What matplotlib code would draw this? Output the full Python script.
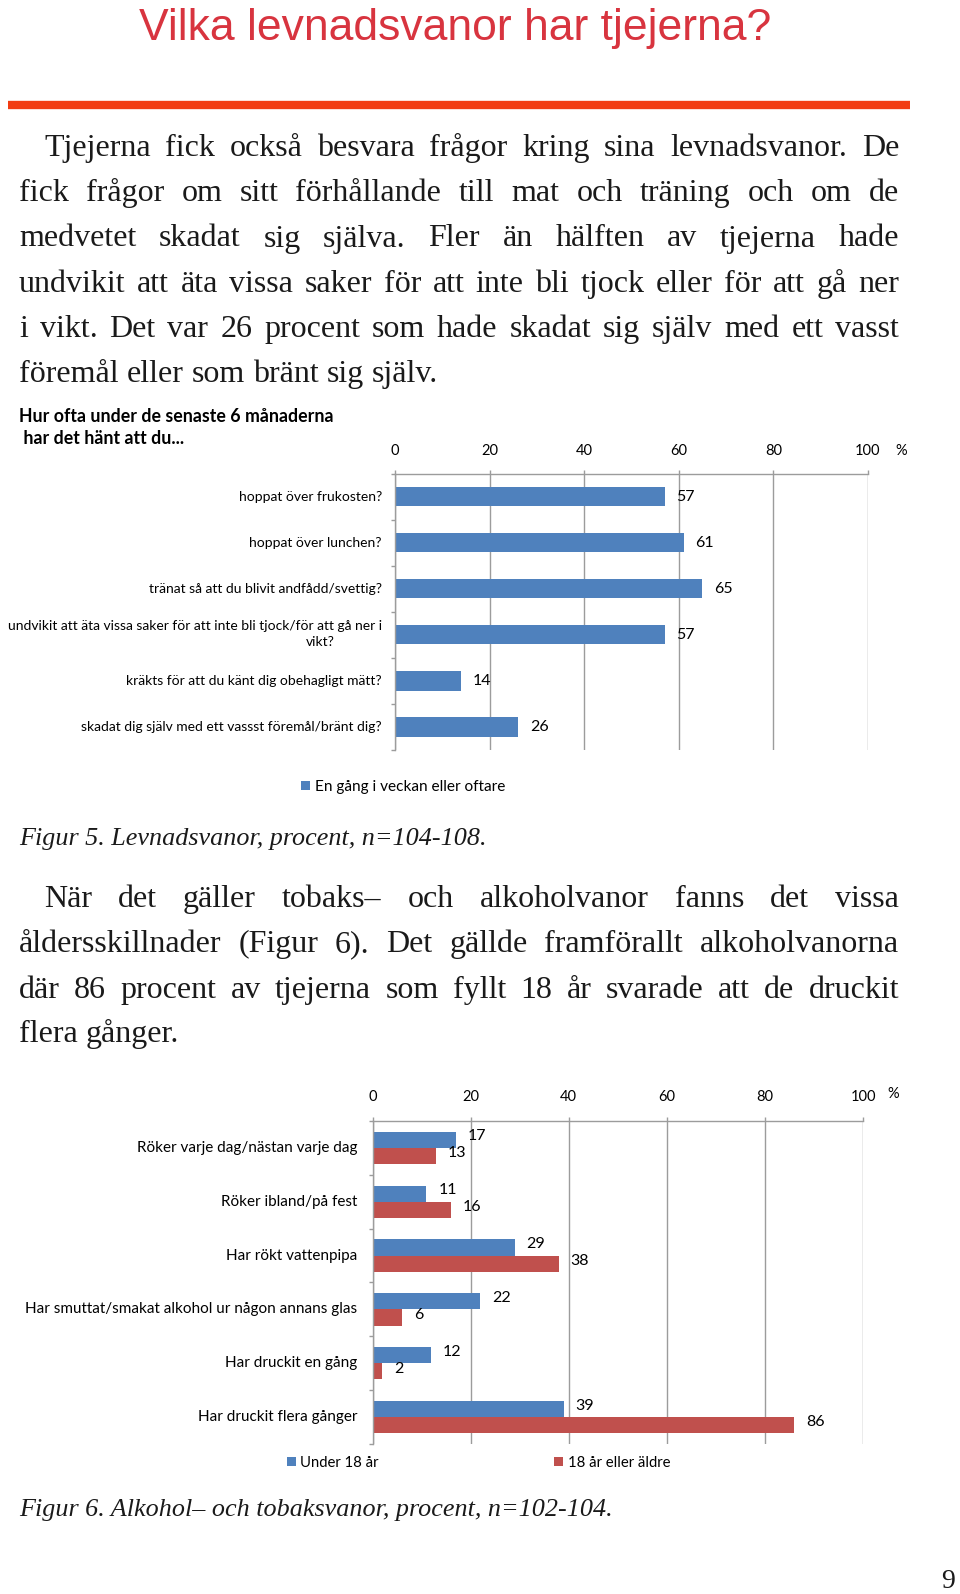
import matplotlib
matplotlib.use('Agg')
import matplotlib.pyplot as plt
from matplotlib import font_manager


def has_font(name):
    try:
        font_manager.findfont(name, fallback_to_default=False)
        return True
    except ValueError:
        return False


NARROW = 'Liberation Sans Narrow' if has_font('Liberation Sans Narrow') else 'Liberation Sans'
SERIF = 'Liberation Serif'
CHART = 'Lato'

# --- data ---
fig5_labels = ['hoppat över frukosten?', 'hoppat över lunchen?',
               'tränat så att du blivit andfådd/svettig?',
               'undvikit att äta vissa saker för att inte bli tjock/för att gå ner i\nvikt?',
               'kräkts för att du känt dig obehagligt mätt?',
               'skadat dig själv med ett vassst föremål/bränt dig?']
fig5_values = [57, 61, 65, 57, 14, 26]
fig5_legend = 'En gång i veckan eller oftare'

fig6_labels = ['Röker varje dag/nästan varje dag', 'Röker ibland/på fest',
               'Har rökt vattenpipa', 'Har smuttat/smakat alkohol ur någon annans glas',
               'Har druckit en gång', 'Har druckit flera gånger']
under18 = [17, 11, 29, 22, 12, 39]
over18 = [13, 16, 38, 6, 2, 86]
fig6_legend = ['Under 18 år', '18 år eller äldre']

x_ticks = [0, 20, 40, 60, 80, 100]

title = 'Vilka levnadsvanor har tjejerna?'
para1 = ['Tjejerna fick också besvara frågor kring sina levnadsvanor. De',
         'fick frågor om sitt förhållande till mat och träning och om de',
         'medvetet skadat sig själva. Fler än hälften av tjejerna hade',
         'undvikit att äta vissa saker för att inte bli tjock eller för att gå ner',
         'i vikt. Det var 26 procent som hade skadat sig själv med ett vasst',
         'föremål eller som bränt sig själv.']
para2 = ['När det gäller tobaks– och alkoholvanor fanns det vissa',
         'åldersskillnader (Figur 6). Det gällde framförallt alkoholvanorna',
         'där 86 procent av tjejerna som fyllt 18 år svarade att de druckit',
         'flera gånger.']
caption5 = 'Figur 5. Levnadsvanor, procent, n=104-108.'
caption6 = 'Figur 6. Alkohol– och tobaksvanor, procent, n=102-104.'

BLUE = '#4f81bd'
RED = '#c0504d'
GRID = '#9c9c9c'
BODY = 23

W, H = 960, 1594
fig = plt.figure(figsize=(W / 100, H / 100), dpi=100)
renderer = fig.canvas.get_renderer()


def fx(x):
    return x / W


def fy(y):
    return 1 - y / H


def justify(line, x0, x1, y, size, last=False):
    words = line.split(' ')
    arts = [fig.text(0, 0, w, fontsize=size, family=SERIF, color='#1a1a1a', va='baseline')
            for w in words]
    widths = [a.get_window_extent(renderer).width for a in arts]
    natural = size * 100 / 72 * 0.25
    if last or len(words) == 1:
        gap = natural
    else:
        gap = max((x1 - x0 - sum(widths)) / (len(words) - 1), 3)
    x = x0
    for a, w in zip(arts, widths):
        a.set_position((fx(x), fy(y)))
        x += w + gap


# --- title and rule ---
fig.text(fx(455), fy(40), title, fontsize=32, family=NARROW, color='#d8343f',
         ha='center', va='baseline')
fig.add_artist(plt.Line2D([fx(8), fx(910)], [fy(105), fy(105)], color='#f23c12', lw=6,
                          solid_capstyle='butt'))

# --- paragraphs ---
base1 = [156, 201, 246.5, 292, 337, 382]
for i, (ln, yb) in enumerate(zip(para1, base1)):
    justify(ln, 44 if i == 0 else 19, 899, yb, BODY, last=(i == len(para1) - 1))
base2 = [907, 952, 997.5, 1042]
for i, (ln, yb) in enumerate(zip(para2, base2)):
    justify(ln, 44 if i == 0 else 19, 899, yb, BODY, last=(i == len(para2) - 1))

fig.text(fx(19), fy(845), caption5, fontsize=18.8, family=SERIF, style='italic',
         color='#1a1a1a', va='baseline')
fig.text(fx(19), fy(1516), caption6, fontsize=18.8, family=SERIF, style='italic',
         color='#1a1a1a', va='baseline')
fig.text(fx(955), fy(1588), '9', fontsize=20, family=SERIF, color='#1a1a1a',
         ha='right', va='baseline')


def style_axes(ax, tick_pad):
    ax.set_xlim(0, 100)
    ax.set_ylim(5.5, -0.5)
    ax.xaxis.tick_top()
    ax.set_xticks(x_ticks)
    ax.set_xticklabels([str(t) for t in x_ticks], family=CHART, fontsize=10.5)
    ax.tick_params(axis='x', length=3, width=1, color=GRID, pad=tick_pad)
    ax.set_yticks([])
    ax.set_yticks([-0.5, 0.5, 1.5, 2.5, 3.5, 4.5, 5.5], minor=True)
    ax.tick_params(axis='y', which='minor', length=3, width=1, color=GRID)
    ax.grid(axis='x', color=GRID, lw=1)
    ax.set_axisbelow(True)
    for s in ['right', 'bottom']:
        ax.spines[s].set_visible(False)
    for s in ['top', 'left']:
        ax.spines[s].set_color(GRID)
        ax.spines[s].set_linewidth(1)


# --- Figur 5 ---
fig.text(fx(19), fy(416), 'Hur ofta under de senaste 6 månaderna', fontsize=12.8,
         family=CHART, weight='bold', va='center')
fig.text(fx(19), fy(438), ' har det hänt att du...', fontsize=12.8,
         family=CHART, weight='bold', va='center')

ax1 = fig.add_axes([fx(395), fy(750), (868 - 395) / W, (750 - 473.5) / H])
style_axes(ax1, 8)
bars1 = ax1.barh(range(len(fig5_values)), fig5_values, height=0.42, color=BLUE)
for i, (lbl, v) in enumerate(zip(fig5_labels, fig5_values)):
    lines = lbl.split('\n')
    if len(lines) == 1:
        ax1.annotate(lbl, xy=(0, i), xytext=(-9.5, 0), textcoords='offset points',
                     ha='right', va='center', family=CHART, fontsize=10)
    else:
        ax1.annotate(lines[0], xy=(0, i), xytext=(-9.5, 6), textcoords='offset points',
                     ha='right', va='center', family=CHART, fontsize=10)
        ax1.annotate(lines[1], xy=(0, i), xytext=(-54, -5), textcoords='offset points',
                     ha='center', va='center', family=CHART, fontsize=10)
    ax1.annotate(str(v), xy=(v, i), xytext=(8.5, 0), textcoords='offset points',
                 ha='left', va='center', family=CHART, fontsize=11.5)
fig.text(fx(901), fy(451), '%', fontsize=10.5, family=CHART, ha='center', va='center')
ax1.legend([bars1], [fig5_legend], loc='center left', bbox_to_anchor=(fx(301), fy(787)),
           bbox_transform=fig.transFigure, frameon=False, handlelength=0.6,
           handleheight=0.6, handletextpad=0.3, borderpad=0, borderaxespad=0,
           prop={'family': CHART, 'size': 11.1})

# --- Figur 6 ---
ax2 = fig.add_axes([fx(372.5), fy(1444), (863 - 372.5) / W, (1444 - 1121) / H])
style_axes(ax2, 9)
pos = list(range(len(fig6_labels)))
b_u = ax2.barh([p - 0.15 for p in pos], under18, height=0.3, color=BLUE)
b_o = ax2.barh([p + 0.15 for p in pos], over18, height=0.3, color=RED)
for i, lbl in enumerate(fig6_labels):
    ax2.annotate(lbl, xy=(0, i), xytext=(-11, 0), textcoords='offset points',
                 ha='right', va='center', family=CHART, fontsize=11)
for i in pos:
    ax2.annotate(str(under18[i]), xy=(under18[i], i - 0.15), xytext=(8.5, 2.5),
                 textcoords='offset points', ha='left', va='center', family=CHART,
                 fontsize=11.5)
    ax2.annotate(str(over18[i]), xy=(over18[i], i + 0.15), xytext=(8.5, 2),
                 textcoords='offset points', ha='left', va='center', family=CHART,
                 fontsize=11.5)
fig.text(fx(893), fy(1094), '%', fontsize=10.5, family=CHART, ha='center', va='center')
ax2.legend([b_u, b_o], fig6_legend, loc='center left', bbox_to_anchor=(fx(287), fy(1463)),
           bbox_transform=fig.transFigure, frameon=False, ncol=2, columnspacing=11.8,
           handlelength=0.6, handleheight=0.6, handletextpad=0.3, borderpad=0,
           borderaxespad=0, prop={'family': CHART, 'size': 10.7})

fig.savefig('out.png', dpi=100, facecolor='white')
